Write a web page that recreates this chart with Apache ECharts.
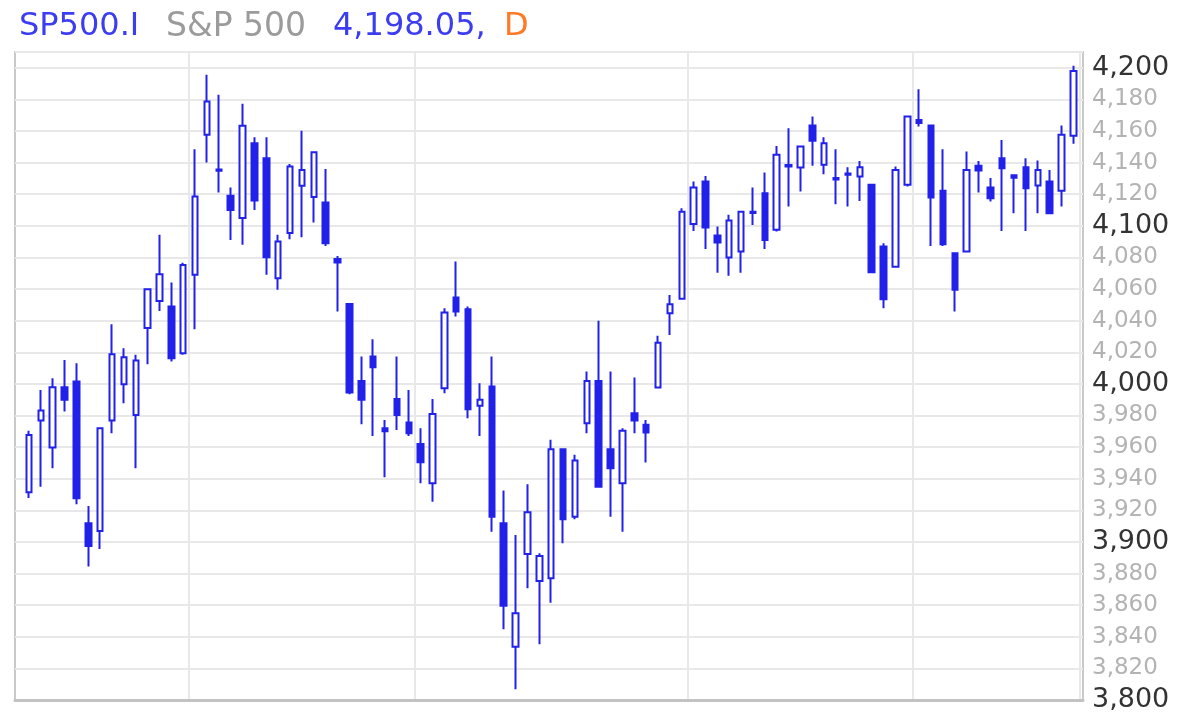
<!DOCTYPE html>
<html>
<head>
<meta charset="utf-8">
<script src="https://cdn.jsdelivr.net/npm/echarts@6/dist/echarts.min.js"></script>
<style>
html,body{margin:0;padding:0;background:#fff;}
#chart{width:1194px;height:719px;}
</style>
</head>
<body>
<div id="chart"></div>
<script>
// Trading days (S&P 500, 2023-01-11 .. 2023-05-18)
const dates = [
 '2023-01-11','2023-01-12','2023-01-13','2023-01-17','2023-01-18','2023-01-19','2023-01-20','2023-01-23','2023-01-24','2023-01-25','2023-01-26','2023-01-27','2023-01-30','2023-01-31',
 '2023-02-01','2023-02-02','2023-02-03','2023-02-06','2023-02-07','2023-02-08','2023-02-09','2023-02-10','2023-02-13','2023-02-14','2023-02-15','2023-02-16','2023-02-17','2023-02-21','2023-02-22','2023-02-23','2023-02-24','2023-02-27','2023-02-28',
 '2023-03-01','2023-03-02','2023-03-03','2023-03-06','2023-03-07','2023-03-08','2023-03-09','2023-03-10','2023-03-13','2023-03-14','2023-03-15','2023-03-16','2023-03-17','2023-03-20','2023-03-21','2023-03-22','2023-03-23','2023-03-24','2023-03-27','2023-03-28','2023-03-29','2023-03-30','2023-03-31',
 '2023-04-03','2023-04-04','2023-04-05','2023-04-06','2023-04-10','2023-04-11','2023-04-12','2023-04-13','2023-04-14','2023-04-17','2023-04-18','2023-04-19','2023-04-20','2023-04-21','2023-04-24','2023-04-25','2023-04-26','2023-04-27','2023-04-28',
 '2023-05-01','2023-05-02','2023-05-03','2023-05-04','2023-05-05','2023-05-08','2023-05-09','2023-05-10','2023-05-11','2023-05-12','2023-05-15','2023-05-16','2023-05-17','2023-05-18'
];
const opens = [
 3931.5,3976.8,3959.7,3997.9,4001.5,3911.8,3907.0,3976.8,3999.8,3980.4,4035.3,4052.5,4048.9,4019.4,
 4069.0,4157.6,4135.6,4119.0,4104.9,4152.3,4142.8,4066.9,4095.4,4125.3,4118.2,4114.8,4079.1,4050.6,4001.9,4017.3,3972.0,3990.5,3975.5,
 3962.0,3937.2,3997.3,4054.6,4047.3,3986.1,3998.3,3911.8,3833.7,3892.4,3875.3,3877.0,3958.7,3916.0,3975.1,4001.9,3958.7,3937.2,3981.5,3974.1,3997.7,4044.7,4053.8,
 4101.1,4128.0,4093.9,4079.9,4083.7,4108.2,4120.7,4097.5,4138.5,4136.9,4163.5,4138.6,4130.2,4133.2,4131.2,4126.0,4086.9,4074.2,4126.0,
 4167.0,4163.5,4122.2,4082.7,4083.7,4138.0,4124.2,4142.8,4132.0,4137.1,4125.5,4128.0,4122.2,4157.0
];
const closes = [
 3967.7,3983.1,3997.9,3989.9,3927.7,3897.5,3972.0,4018.8,4016.9,4014.8,4059.9,4069.4,4016.3,4075.3,
 4118.5,4178.7,4134.8,4110.1,4163.3,4116.0,4080.2,4090.1,4137.5,4135.4,4146.6,4089.0,4076.8,3994.5,3989.9,4010.6,3970.0,3980.4,3968.8,
 3950.4,3981.0,4045.1,4045.8,3984.0,3989.9,3916.0,3859.7,3854.9,3918.8,3891.1,3958.7,3914.4,3951.5,4001.9,3935.0,3946.6,3970.3,3976.8,3969.2,4026.1,4050.4,4109.0,
 4124.2,4099.0,4089.4,4103.4,4109.0,4109.0,4091.1,4145.0,4137.6,4150.2,4153.8,4152.3,4129.3,4132.3,4137.1,4070.7,4053.6,4135.4,4169.2,
 4165.0,4117.9,4088.4,4059.5,4135.4,4135.0,4117.5,4136.5,4130.5,4123.8,4135.4,4108.0,4157.6,4198.05
];
const lows = [
 3927.8,3935.0,3946.6,3982.5,3923.9,3884.4,3895.6,3968.8,3987.8,3946.6,4012.5,4046.2,4014.1,4018.4,
 4034.6,4140.1,4121.1,4091.1,4088.0,4110.1,4069.0,4059.5,4091.6,4092.8,4102.1,4087.3,4045.8,3993.5,3974.5,3967.1,3940.9,3970.9,3967.1,
 3937.2,3925.5,3994.1,4042.6,3978.3,3967.1,3906.5,3844.7,3806.8,3870.7,3835.3,3861.6,3899.2,3914.4,3968.8,3935.0,3916.0,3906.5,3968.8,3950.2,3997.5,4031.0,4053.8,
 4096.8,4085.3,4070.4,4068.4,4070.4,4100.6,4085.3,4096.4,4112.2,4121.7,4138.0,4132.7,4113.7,4112.2,4115.8,4070.7,4047.9,4074.2,4124.9,
 4162.8,4087.3,4087.3,4045.8,4083.7,4121.1,4115.4,4096.8,4108.0,4096.8,4108.0,4108.0,4112.2,4151.9
];
const highs = [
 3970.3,3996.2,4003.6,4015.2,4013.1,3922.8,3972.0,4037.8,4022.6,4018.4,4059.9,4094.3,4064.1,4076.6,
 4148.5,4195.6,4182.9,4124.2,4177.2,4156.1,4156.1,4094.3,4139.2,4160.1,4146.6,4135.9,4081.0,4050.6,4017.3,4028.3,3977.2,4017.3,3996.2,
 3972.0,3990.5,4047.9,4077.4,4048.9,4000.4,4017.3,3932.5,3904.4,3936.5,3892.8,3964.6,3958.7,3955.1,4007.8,4039.9,4007.8,3972.0,4004.0,3977.2,4030.4,4056.3,4111.2,
 4128.0,4131.6,4099.6,4107.0,4109.4,4124.2,4133.7,4150.6,4161.8,4150.6,4169.2,4156.1,4148.5,4137.1,4141.1,4126.0,4089.0,4137.5,4169.2,
 4186.5,4163.5,4148.5,4082.7,4147.0,4141.1,4130.2,4154.4,4132.3,4142.8,4141.3,4135.4,4163.5,4201.3
];
const symbol = 'SP500.I';
const instrumentName = 'S&P 500';
const periodCode = 'D';

const candleData = dates.map((d, i) => [opens[i], closes[i], lows[i], highs[i]]);
const lastClose = closes[closes.length - 1];
const fmtNum = (v, dec) => v.toLocaleString('en-US', {minimumFractionDigits: dec, maximumFractionDigits: dec});

const BLUE = '#2121ea';
const chart = echarts.init(document.getElementById('chart'), null, {renderer: 'canvas'});
const hdrFont = 'DejaVu Sans, Verdana, sans-serif';
chart.setOption({
  backgroundColor: '#fff',
  animation: false,
  title: [
    {text: symbol, left: 19, top: 11, padding: 0, textStyle: {color: '#3c3cf0', fontSize: 32, fontWeight: 'normal', fontFamily: hdrFont}},
    {text: instrumentName, left: 166, top: 11, padding: 0, textStyle: {color: '#9b9b9b', fontSize: 33, fontWeight: 'normal', fontFamily: hdrFont}},
    {text: fmtNum(lastClose, 2) + ',', left: 333, top: 11, padding: 0, textStyle: {color: '#3c3cf0', fontSize: 32, fontWeight: 'normal', fontFamily: hdrFont}},
    {text: periodCode, left: 504, top: 11, padding: 0, textStyle: {color: '#ff7a26', fontSize: 32, fontWeight: 'normal', fontFamily: hdrFont}}
  ],
  grid: [
    {left: 15, right: 111, top: 52, bottom: 19, show: true, borderColor: '#c9c9c9', borderWidth: 2, backgroundColor: 'transparent'},
    {left: 23, right: 114.6, top: 52, bottom: 19}
  ],
  xAxis: [
    {type: 'value', gridIndex: 0, min: 0, max: 1, show: true,
     axisLine: {show: true, lineStyle: {color: '#c2c2c2', width: 3}},
     axisTick: {show: false}, axisLabel: {show: false}, splitLine: {show: false}},
    {
      type: 'category', gridIndex: 1, data: dates, boundaryGap: true,
      axisLine: {show: false}, axisTick: {show: false}, axisLabel: {show: false},
      splitLine: {
        show: true,
        interval: (idx) => idx > 0 && dates[idx].slice(0, 7) !== dates[idx - 1].slice(0, 7),
        lineStyle: {color: '#e8e8e8', width: 2}
      }
    }
  ],
  yAxis: [
    {
      type: 'value', gridIndex: 0, position: 'right', min: 3800, max: 4210, interval: 20,
      axisLine: {show: false}, axisTick: {show: false},
      splitLine: {show: true, lineStyle: {color: '#e8e8e8', width: 2}},
      axisLabel: {
        margin: 9,
        formatter: (v) => {
          const r = Math.round(v);
          if (r % 100 === 0) return '{a|' + fmtNum(r, 0) + '}';
          if (r % 20 === 0) return '{b|' + fmtNum(r, 0) + '}';
          return '';
        },
        rich: {
          a: {fontSize: 27, color: '#333333', fontFamily: hdrFont},
          b: {fontSize: 23, color: '#b3b3b3', fontFamily: hdrFont}
        }
      }
    },
    {type: 'value', gridIndex: 1, min: 3800, max: 4210, show: false, splitLine: {show: false}}
  ],
  series: [{
    type: 'candlestick',
    xAxisIndex: 1, yAxisIndex: 1,
    data: candleData,
    barWidth: 6,
    itemStyle: {color: '#ffffff', color0: BLUE, borderColor: BLUE, borderColor0: BLUE, borderWidth: 2}
  }]
});
</script>
</body>
</html>
